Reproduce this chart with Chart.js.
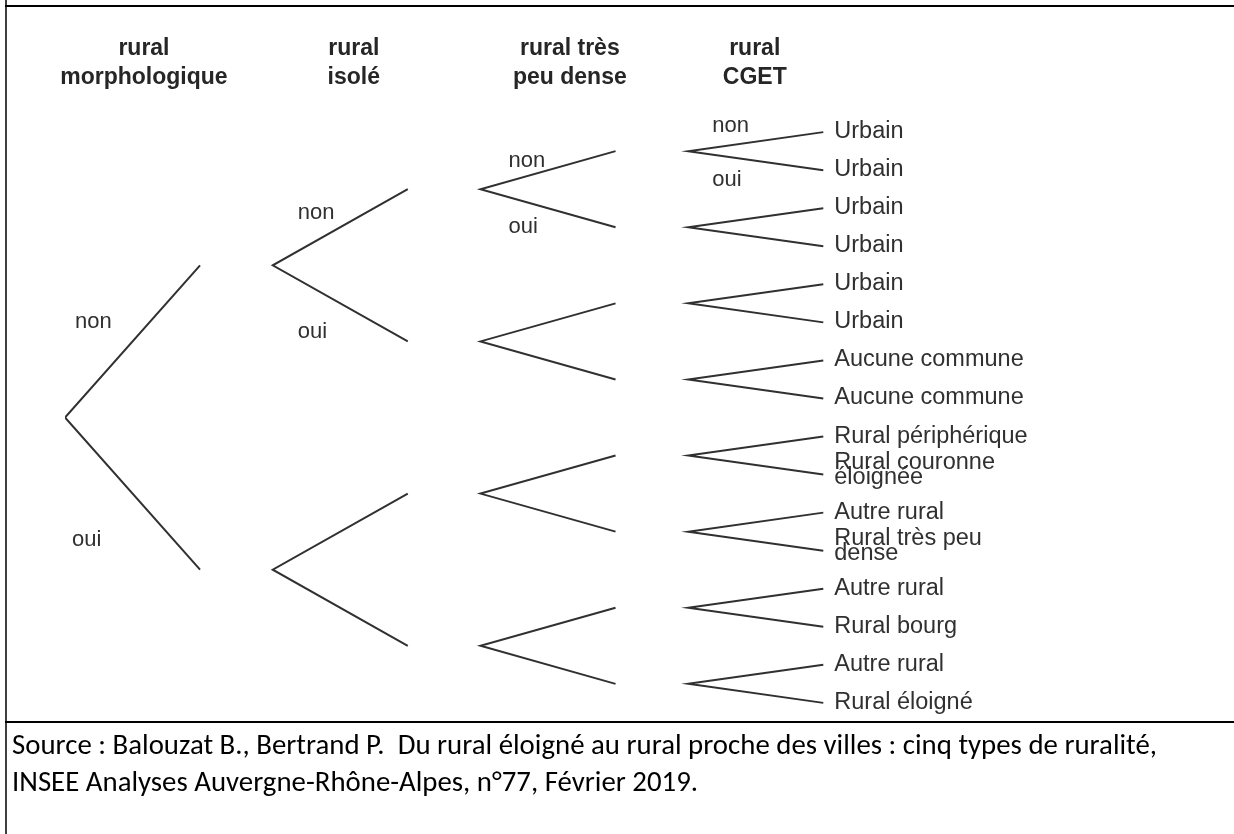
<!DOCTYPE html>
<html>
<head>
<meta charset="utf-8">
<script src="https://cdn.jsdelivr.net/npm/chart.js@4"></script>
<style>
  html, body { margin: 0; padding: 0; background: #fff; }
  #wrap { position: relative; width: 1234px; height: 834px; }
</style>
</head>
<body>
<div id="wrap"><canvas id="tree" width="1234" height="834"></canvas></div>
<script>
// Column headers (one per question of the decision tree)
const columnTitles = [
  ['rural', 'morphologique'],
  ['rural', 'isolé'],
  ['rural très', 'peu dense'],
  ['rural', 'CGET']
];

// Answers on each pair of branches
const answers = ['non', 'oui'];

// Leaves, top to bottom
const leafLabels = [
  ['Urbain'], ['Urbain'], ['Urbain'], ['Urbain'], ['Urbain'], ['Urbain'],
  ['Aucune commune'], ['Aucune commune'],
  ['Rural périphérique'], ['Rural couronne', 'éloignée'],
  ['Autre rural'], ['Rural très peu', 'dense'],
  ['Autre rural'], ['Rural bourg'],
  ['Autre rural'], ['Rural éloigné']
];

const sourceLines = [
  'Source : Balouzat B., Bertrand P.  Du rural éloigné au rural proche des villes : cinq types de ruralité,',
  'INSEE Analyses Auvergne-Rhône-Alpes, n°77, Février 2019.'
];

const depth = columnTitles.length;
const reach = 0.65;          // how far a branch goes towards the next column
const ink = '#303030';

// y of a node = middle of the leaves below it
function nodeY(level, j) {
  const span = 2 ** (depth - level);
  return j * span + (span - 1) / 2;
}

// one "<" per node : upper child, node, lower child
const datasets = [];
for (let level = 0; level < depth; level++) {
  for (let j = 0; j < 2 ** level; j++) {
    datasets.push({
      data: [
        { x: level + reach, y: nodeY(level + 1, 2 * j) },
        { x: level, y: nodeY(level, j) },
        { x: level + reach, y: nodeY(level + 1, 2 * j + 1) }
      ],
      showLine: true,
      borderColor: ink,
      borderWidth: 2,
      pointRadius: 0,
      tension: 0
    });
  }
}

// header centre, in column units
const titleAt = [0.38, 1.39, 2.43, 3.32];

// where "non"/"oui" sit next to the first node of each column (px from the node)
const answerShift = [
  { dx: 10, non: -90, oui: 128 },
  { dx: 25, non: -46, oui: 73 },
  { dx: 28, non: -22, oui: 44 },
  { dx: 24, non: -19, oui: 35 }
];

const textPlugin = {
  id: 'treeText',
  afterDraw(chart) {
    const ctx = chart.ctx;
    const xs = chart.scales.x, ys = chart.scales.y;
    ctx.save();

    // frame of the table cell
    ctx.strokeStyle = '#000';
    ctx.lineWidth = 2;
    ctx.beginPath();
    ctx.moveTo(5, 6); ctx.lineTo(1234, 6);
    ctx.moveTo(5, 722); ctx.lineTo(1234, 722);
    ctx.stroke();
    ctx.lineWidth = 1.5;
    ctx.beginPath();
    ctx.moveTo(6, 0); ctx.lineTo(6, 834);
    ctx.stroke();

    // column titles
    ctx.fillStyle = '#262626';
    ctx.font = 'bold 23px "Liberation Sans", Arial, sans-serif';
    ctx.textAlign = 'center';
    ctx.textBaseline = 'alphabetic';
    columnTitles.forEach((lines, k) => {
      const cx = xs.getPixelForValue(titleAt[k]);
      lines.forEach((t, i) => ctx.fillText(t, cx, 55 + i * 29));
    });

    // answers on the first node of each column
    ctx.fillStyle = ink;
    ctx.font = '22px "Liberation Sans", Arial, sans-serif';
    ctx.textAlign = 'left';
    answerShift.forEach((s, level) => {
      const px = xs.getPixelForValue(level);
      const py = ys.getPixelForValue(nodeY(level, 0));
      ctx.fillText(answers[0], px + s.dx, py + s.non);
      ctx.fillText(answers[1], px + s.dx - (level === 0 ? 3 : 0), py + s.oui);
    });

    // leaves
    ctx.font = '23.5px "Liberation Sans", Arial, sans-serif';
    const lx = xs.getPixelForValue(depth - 1 + reach) + 11;
    leafLabels.forEach((lines, i) => {
      const py = ys.getPixelForValue(i);
      if (lines.length === 1) {
        ctx.fillText(lines[0], lx, py + 6);
      } else {
        ctx.fillText(lines[0], lx, py - 6);
        ctx.fillText(lines[1], lx, py + 9);
      }
    });

    // source, squeezed to the width of the original line
    ctx.fillStyle = '#000';
    ctx.font = '28px Carlito, Lato, "Liberation Sans", sans-serif';
    const sx = 1145 / ctx.measureText(sourceLines[0]).width;
    sourceLines.forEach((t, i) => {
      ctx.save();
      ctx.translate(12, 754 + i * 37);
      ctx.scale(sx, 1);
      ctx.fillText(t, 0, 0);
      ctx.restore();
    });

    ctx.restore();
  }
};

new Chart(document.getElementById('tree'), {
  type: 'scatter',
  data: { datasets: datasets },
  options: {
    responsive: false,
    animation: false,
    layout: { padding: { left: 65, right: 338, top: 37, bottom: 36 } },
    scales: {
      x: { type: 'linear', min: 0, max: 4, display: false },
      y: { type: 'linear', min: -2.5, max: 17.5, reverse: true, display: false }
    },
    plugins: { legend: { display: false }, tooltip: { enabled: false } }
  },
  plugins: [textPlugin]
});
</script>
</body>
</html>
